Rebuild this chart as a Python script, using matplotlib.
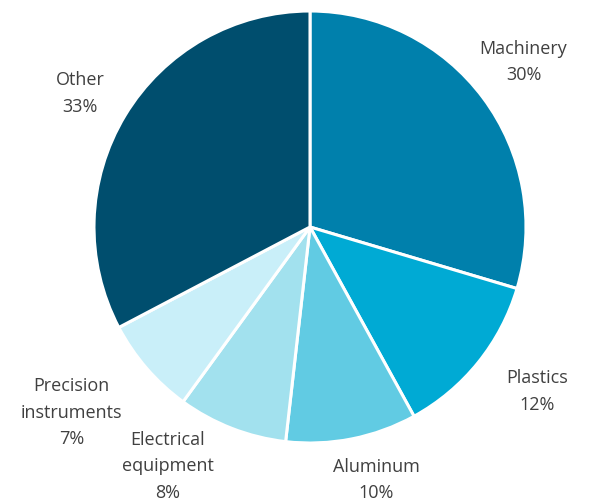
import matplotlib.pyplot as plt
import numpy as np

categories = ["Machinery", "Plastics", "Aluminum", "Electrical\nequipment",
              "Precision\ninstruments", "Other"]
shares = [29.6, 12.4, 9.8, 8.2, 7.3, 32.7]
pct_labels = ["30%", "12%", "10%", "8%", "7%", "33%"]
colors = ["#0080AC", "#00AAD4", "#61CBE3", "#A2E1EE", "#C9EFF9", "#004E6E"]

fig = plt.figure(figsize=(5.98, 5.01), dpi=100)
ax = fig.add_axes([0, 0, 1, 1])

wedges, _ = ax.pie(shares, colors=colors, startangle=90, counterclock=False,
                   radius=1.0, wedgeprops=dict(edgecolor="white", linewidth=2.2))

# label placement (distance factor and small angle nudges, like Excel's outside-end)
dist = [1.25, 1.30, 1.21, 1.29, 1.40, 1.23]
nudge = [1, 3, 3.5, -9.5, -3, 1]
for w, cat, pct, d, n in zip(wedges, categories, pct_labels, dist, nudge):
    ang = np.deg2rad((w.theta1 + w.theta2) / 2 + n)
    ax.text(d * np.cos(ang), d * np.sin(ang), f"{cat}\n{pct}",
            ha="center", va="center", fontsize=13, color="#404040",
            family="Open Sans", linespacing=1.6)

ax.set_xlim(-310 / 216, 288 / 216)
ax.set_ylim(-274 / 216, 227 / 216)
ax.set_aspect("auto")
ax.axis("off")

fig.savefig("out.png", dpi=100)
